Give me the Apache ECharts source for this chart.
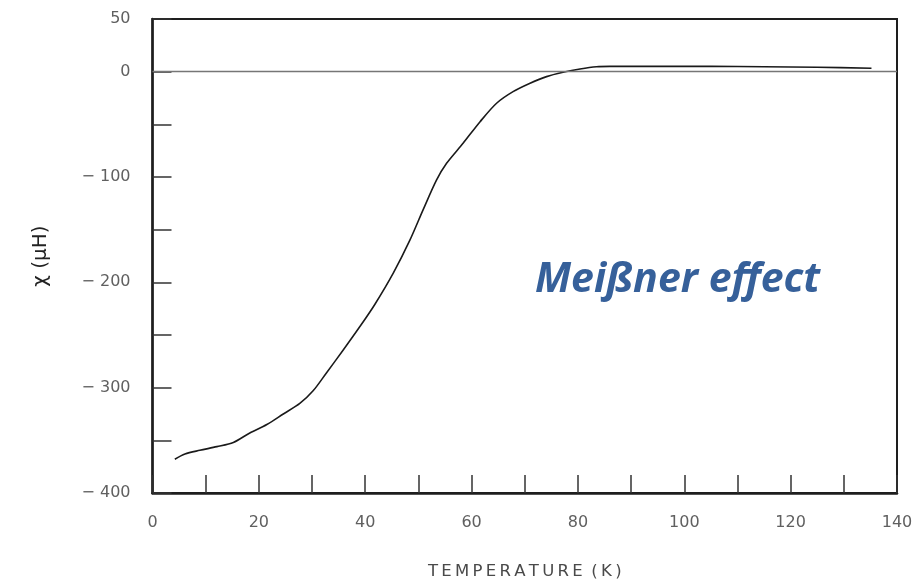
<!DOCTYPE html>
<html>
<head>
<meta charset="utf-8">
<script src="https://cdn.jsdelivr.net/npm/echarts@6/dist/echarts.min.js"></script>
<style>
  html, body { margin: 0; padding: 0; background: #ffffff; }
  #chart { width: 923px; height: 585px; }
</style>
</head>
<body>
<div id="chart"></div>
<script>
// Magnetic susceptibility vs temperature (field-cooled), showing flux expulsion
const temperatureK = [4.2, 6.1, 8.9, 12.1, 15.2, 18.3, 21.5, 24.6, 27.7, 30.2,
  32.7, 35.9, 39.0, 41.8, 45.3, 48.4, 50.9, 53.4, 55.3, 58.4,
  61.6, 64.7, 67.8, 71.0, 74.1, 77.2, 80.4, 83.5, 86.0, 95,
  105, 115, 125, 135.2];
const chiMicroH = [-368, -363, -359.5, -356, -352, -343, -335, -325, -315, -303,
  -286, -264, -242, -221, -191, -160, -131, -103, -87, -68,
  -47.5, -30, -19, -11, -4.7, -0.6, 2.6, 4.7, 5, 5,
  5, 4.7, 4.2, 3.2];
const yLabelValues = [50, 0, -100, -200, -300, -400];
const xLabelValues = [0, 20, 40, 60, 80, 100, 120, 140];

const points = temperatureK.map((t, i) => [t, chiMicroH[i]]);

const chart = echarts.init(document.getElementById('chart'), null, { renderer: 'canvas' });

const labelFont = {
  color: '#606060',
  fontFamily: 'DejaVu Sans',
  fontSize: 16
};

chart.setOption({
  backgroundColor: '#ffffff',
  animation: false,
  grid: {
    left: 152.5, right: 26, top: 19, bottom: 92,
    show: true,
    borderColor: '#1e1e1e',
    borderWidth: 2,
    backgroundColor: 'transparent'
  },
  xAxis: {
    type: 'value',
    min: 0, max: 140, interval: 10,
    name: 'T\u2009E\u2009M\u2009P\u2009E\u2009R\u2009A\u2009T\u2009U\u2009R\u2009E\u2009 (\u2009K\u2009)',
    nameLocation: 'middle',
    nameGap: 70,
    nameTextStyle: { color: '#4a4a4a', fontFamily: 'DejaVu Sans', fontSize: 16.5 },
    axisLine: { show: true, onZero: false, lineStyle: { color: '#1e1e1e', width: 2.5 } },
    axisTick: { show: true, inside: true, length: 18, lineStyle: { color: '#333', width: 1.5 } },
    splitLine: { show: false },
    axisLabel: Object.assign({}, labelFont, {
      margin: 22,
      formatter: v => xLabelValues.includes(v) ? String(v) : ''
    })
  },
  yAxis: {
    type: 'value',
    min: -400, max: 50, interval: 50,
    name: '\u03C7 (\u03BCH)',
    nameLocation: 'middle',
    nameGap: 102,
    nameRotate: 90,
    nameTextStyle: { color: '#222', fontFamily: 'DejaVu Sans', fontSize: 20 },
    axisLine: { show: true, onZero: false, lineStyle: { color: '#1e1e1e', width: 2.5 } },
    axisTick: { show: true, inside: true, length: 19, lineStyle: { color: '#333', width: 1.5 } },
    splitLine: { show: false },
    axisLabel: Object.assign({}, labelFont, {
      margin: 22,
      formatter: v => yLabelValues.includes(v) ? (v < 0 ? '\u2212 ' + Math.abs(v) : String(v)) : ''
    })
  },
  series: [{
    type: 'line',
    data: points,
    smooth: 0.3,
    showSymbol: false,
    lineStyle: { color: '#1a1a1a', width: 1.6 },
    markLine: {
      silent: true,
      symbol: ['none', 'none'],
      label: { show: false },
      lineStyle: { color: '#767676', width: 1.3, type: 'solid' },
      data: [{ yAxis: 0 }]
    }
  }],
  graphic: [{
    type: 'text',
    left: 535,
    top: 260,
    style: {
      text: 'Meißner effect',
      fill: '#36609a',
      font: 'italic bold 41px "Open Sans"'
    }
  }]
});
</script>
</body>
</html>
